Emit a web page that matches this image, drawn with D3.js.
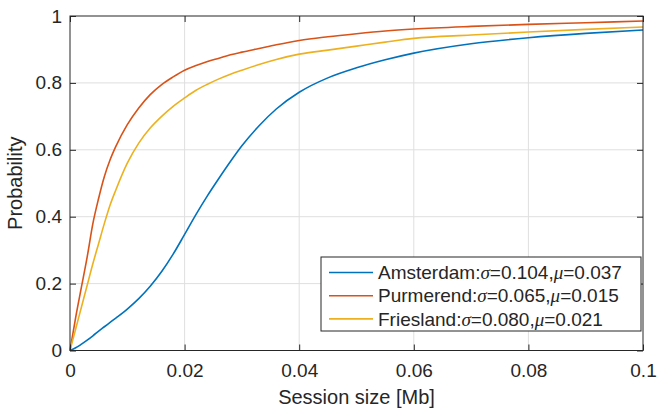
<!DOCTYPE html>
<html lang="en">
<head>
<meta charset="utf-8">
<title>session size cdf</title>
<script src="https://d3js.org/d3.v7.min.js"></script>
<style type="text/css">
  body { margin: 0; background: #fff; }
  svg { display: block; }
  text { font-family: "Liberation Sans", Arial, Helvetica, sans-serif; fill: #262626; }
  .axis path { display: none; }
  .axis line { stroke: #262626; }
  .axis text { font-size: 19px; }
  .grid line { stroke: #dfdfdf; stroke-width: 1px; }
  .linestyle { fill: none; stroke-width: 1.6px; }
</style>
</head>
<body>
<script type="text/javascript">

var w = 658;
var h = 414;
var margin = {top: 16, right: 15, bottom: 63.5, left: 70};
var innerWidth = w - margin.left - margin.right;
var innerHeight = h - margin.top - margin.bottom;

// data
var sizes = [0, 0.001, 0.002, 0.003, 0.004, 0.005, 0.006, 0.007, 0.008, 0.01, 0.012, 0.014,
             0.016, 0.018, 0.02, 0.022, 0.024, 0.026, 0.028, 0.03, 0.033, 0.036, 0.04, 0.045,
             0.05, 0.055, 0.06, 0.07, 0.08, 0.09, 0.1];

var amsterdam = [0, 0.008, 0.019, 0.031, 0.044, 0.058, 0.071, 0.084, 0.097, 0.124, 0.155, 0.192,
                 0.236, 0.288, 0.347, 0.407, 0.463, 0.515, 0.565, 0.612, 0.672, 0.722, 0.772, 0.815,
                 0.845, 0.869, 0.889, 0.917, 0.935, 0.948, 0.958];

var purmerend = [0, 0.1, 0.19, 0.28, 0.38, 0.455, 0.52, 0.57, 0.61, 0.675, 0.725, 0.765,
                 0.795, 0.818, 0.838, 0.852, 0.864, 0.874, 0.884, 0.892, 0.903, 0.914, 0.927, 0.938,
                 0.947, 0.955, 0.961, 0.969, 0.975, 0.98, 0.985];

var friesland = [0, 0.065, 0.13, 0.195, 0.26, 0.32, 0.38, 0.435, 0.48, 0.56, 0.62, 0.665,
                 0.7, 0.73, 0.755, 0.778, 0.796, 0.812, 0.826, 0.838, 0.855, 0.87, 0.886, 0.898,
                 0.91, 0.922, 0.933, 0.943, 0.952, 0.96, 0.967];

var names = ["Amsterdam", "Purmerend", "Friesland"];
var sigmas = ["0.104", "0.065", "0.080"];
var mus = ["0.037", "0.015", "0.021"];
var colors = ["#0072BD", "#D95319", "#EDB120"];

var xTicks = [0, 0.02, 0.04, 0.06, 0.08, 0.1];
var yTicks = [0, 0.2, 0.4, 0.6, 0.8, 1];

var svg = d3.select("body")
            .append("svg")
            .attr("width", w)
            .attr("height", h);

var g = svg.append("g")
           .attr("transform", `translate(${margin.left}, ${margin.top})`);

var xScale = d3.scaleLinear().domain([0, 0.1]).range([0, innerWidth]);
var yScale = d3.scaleLinear().domain([0, 1]).range([innerHeight, 0]);

// grid
var grid = g.append("g").attr("class", "grid");
grid.selectAll(".gx").data(xTicks.slice(1, -1)).enter().append("line")
    .attr("x1", d => xScale(d)).attr("x2", d => xScale(d))
    .attr("y1", 0).attr("y2", innerHeight);
grid.selectAll(".gy").data(yTicks.slice(1, -1)).enter().append("line")
    .attr("y1", d => yScale(d)).attr("y2", d => yScale(d))
    .attr("x1", 0).attr("x2", innerWidth);

// lines
var lineGen = d3.line()
                .x(d => xScale(d[0]))
                .y(d => yScale(d[1]))
                .curve(d3.curveMonotoneX);

[amsterdam, purmerend, friesland].forEach(function(series, i) {
  g.append("path")
   .datum(sizes.map((s, j) => [s, series[j]]))
   .attr("class", "linestyle")
   .attr("stroke", colors[i])
   .attr("d", lineGen);
});

// axes (ticks inside, MATLAB style)
var fmt = d => d === 0 ? "0" : d === 1 ? "1" : d3.format("~g")(d);

g.append("g").attr("class", "axis")
 .attr("transform", `translate(0, ${innerHeight})`)
 .call(d3.axisBottom(xScale).tickValues(xTicks).tickFormat(fmt).tickSizeInner(-6).tickSizeOuter(0).tickPadding(13))
 .attr("font-size", null).attr("font-family", null);

g.append("g").attr("class", "axis")
 .call(d3.axisLeft(yScale).tickValues(yTicks).tickFormat(fmt).tickSizeInner(-6).tickSizeOuter(0).tickPadding(8))
 .attr("font-size", null).attr("font-family", null);

g.append("g").attr("class", "axis")
 .call(d3.axisTop(xScale).tickValues(xTicks).tickSizeInner(-6).tickSizeOuter(0))
 .selectAll("text").remove();

g.append("g").attr("class", "axis")
 .attr("transform", `translate(${innerWidth}, 0)`)
 .call(d3.axisRight(yScale).tickValues(yTicks).tickSizeInner(-6).tickSizeOuter(0))
 .selectAll("text").remove();

// box
g.append("rect")
 .attr("width", innerWidth).attr("height", innerHeight)
 .attr("fill", "none").attr("stroke", "#262626").attr("stroke-width", 1);

// axis labels
svg.append("text")
   .attr("x", margin.left + innerWidth / 2)
   .attr("y", 404)
   .attr("text-anchor", "middle")
   .style("font-size", "20px")
   .text("Session size [Mb]");

svg.append("text")
   .attr("transform", `translate(22, ${margin.top + innerHeight / 2}) rotate(-90)`)
   .attr("text-anchor", "middle")
   .style("font-size", "20px")
   .text("Probability");

// legend
var legend = svg.append("g").attr("transform", "translate(321, 257)");
legend.append("rect")
      .attr("width", 320).attr("height", 74)
      .attr("fill", "#fff").attr("stroke", "#262626").attr("stroke-width", 1);

names.forEach(function(name, i) {
  var yy = 15.5 + i * 23.2;
  legend.append("line")
        .attr("x1", 8).attr("x2", 52).attr("y1", yy).attr("y2", yy)
        .attr("stroke", colors[i]).attr("stroke-width", 1.6);
  var t = legend.append("text")
                .attr("x", 57).attr("y", yy).attr("dy", "0.35em")
                .style("font-size", "19px");
  t.append("tspan").text(name + ":");
  t.append("tspan").style("font-family", "'Liberation Serif', 'Times New Roman', serif")
   .style("font-style", "italic").text("\u03c3");
  t.append("tspan").text("=" + sigmas[i] + ",");
  t.append("tspan").style("font-family", "'Liberation Serif', 'Times New Roman', serif")
   .style("font-style", "italic").text("\u03bc");
  t.append("tspan").text("=" + mus[i]);
});

</script>
</body>
</html>
